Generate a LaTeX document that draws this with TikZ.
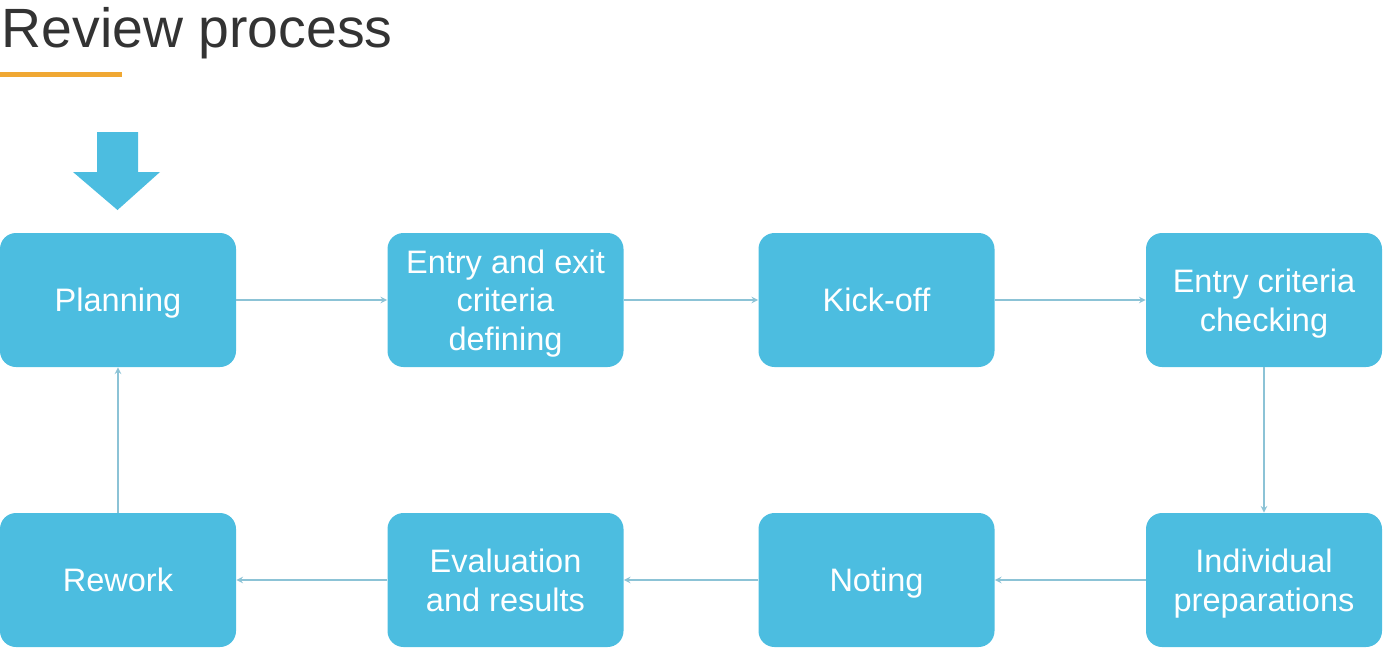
\documentclass[tikz,border=0pt]{standalone}
\usepackage{fontspec}
\setmainfont{Liberation Sans}
\usetikzlibrary{arrows}
\definecolor{boxblue}{HTML}{4CBDE0}
\definecolor{linkblue}{HTML}{8CC3D6}
\definecolor{titlegray}{HTML}{333333}
\definecolor{barorange}{HTML}{F0A833}
\tikzset{
    stage/.style={rectangle, rounded corners=0.32cm, draw=none, fill=boxblue,
                  minimum width=4.72cm, minimum height=2.68cm, text=white,
                  text depth=0pt, align=center, font=\fontsize{18.5}{22}\selectfont},
    link/.style={draw=linkblue, line width=0.7pt, -stealth}
}

\begin{document}
\begin{tikzpicture}
  [
    every node/.style = {inner sep=0pt},
  ]
  \useasboundingbox (0,0) rectangle (27.8,-13.04);
  % title
  \node [anchor=base west, text=titlegray, font=\fontsize{31.5}{36}\selectfont] (title) at (0.03,-0.94) {Review process};
  \fill [barorange] (0,-1.44) rectangle (2.44,-1.54);
  % start arrow
  \fill [boxblue] (1.94,-2.64) -- (2.76,-2.64) -- (2.76,-3.44) -- (3.2,-3.44)
    -- (2.35,-4.2) -- (1.46,-3.44) -- (1.94,-3.44) -- cycle;
  % top row
  \node [stage] (planning) at (2.36,-6.0) {Planning};
  \node [stage] (criteria) at (10.11,-6.0) {Entry and exit\\criteria\\defining};
  \node [stage] (kickoff)  at (17.53,-6.0) {Kick-off};
  \node [stage] (checking) at (25.28,-6.0) {Entry criteria\\checking};
  % bottom row
  \node [stage] (prep)       at (25.28,-11.6) {Individual\\preparations};
  \node [stage] (noting)     at (17.53,-11.6) {Noting};
  \node [stage] (evaluation) at (10.11,-11.6) {Evaluation\\and results};
  \node [stage] (rework)     at (2.36,-11.6) {Rework};
  % links
  \draw [link] (planning) -- (criteria);
  \draw [link] (criteria) -- (kickoff);
  \draw [link] (kickoff) -- (checking);
  \draw [link] (checking) -- (prep);
  \draw [link] (prep) -- (noting);
  \draw [link] (noting) -- (evaluation);
  \draw [link] (evaluation) -- (rework);
  \draw [link] (rework) -- (planning);
\end{tikzpicture}
\end{document}
